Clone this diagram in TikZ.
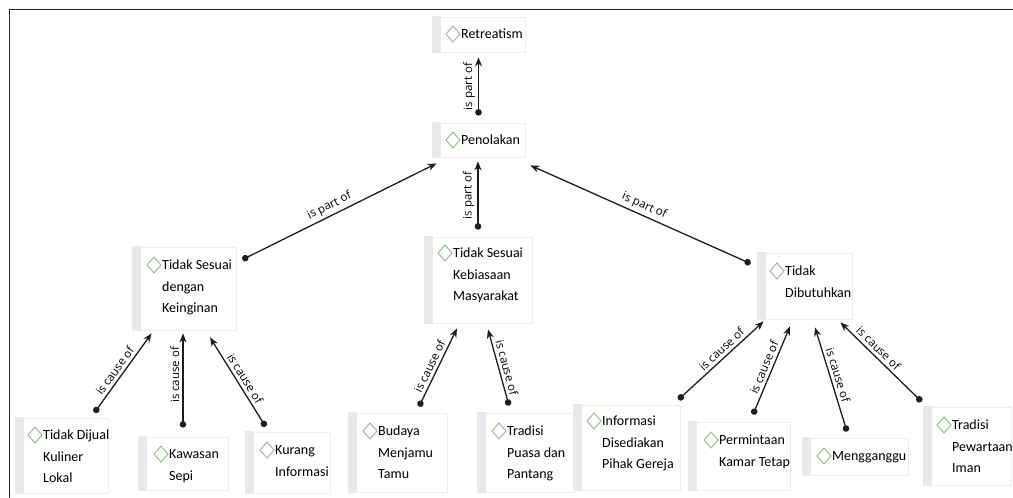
\documentclass[tikz,border=0pt]{standalone}
\usepackage{fontspec}
\setmainfont{Carlito}
\newfontfamily\labfont{Open Sans}
\usetikzlibrary{arrows.meta,calc}
\definecolor{diamg}{HTML}{8DBF80}
\definecolor{stripc}{HTML}{E9E9E9}
\definecolor{bordc}{HTML}{EDEDED}
\definecolor{linec}{HTML}{1E1E1E}
\tikzset{
  cbox/.style={draw=bordc, line width=0.8pt, fill=white, inner sep=0pt},
  ctext/.style={inner sep=0pt, align=left, font=\fontsize{14}{21.5}\selectfont, text=black},
  diam/.style={draw=diamg, line width=0.9pt, line join=miter},
  strip/.style={fill=stripc},
  rel/.style={draw=linec, line width=1.3pt, {Circle[length=6.5pt]}-{Stealth[length=9pt,width=7pt]}},
  lab/.style={font=\labfont\fontsize{11.5}{13}\selectfont, sloped, above=2pt, inner sep=1pt, text=black},
  frame/.style={draw=black!85, line width=1.6pt}
}
\newcommand{\mkbox}[8]{%
  \node[cbox, minimum width={#4-#2}, minimum height={#5-#3}] (#1) at ({(#2+#4)/2},{(#3+#5)/2}) {};
  \fill[strip] ([shift={(0.4,-0.4)}]#1.north west) rectangle ([shift={(9,0.4)}]#1.south west);
  \draw[diam] (#6-8,#7) ++(-7,0) -- ++(7,-8) -- ++(7,8) -- ++(-7,8) -- cycle;
  \node[ctext, anchor=north west] (#1-t) at (#6,#7-10.55) {\strut #8};
}
\begin{document}
\begin{tikzpicture}[x=1pt, y=-1pt]
\useasboundingbox (0,0) rectangle (1013,498);
\draw[frame] (9.5,498) -- (9.5,9.5) -- (1013,9.5);

\mkbox{ret}{432}{17}{525}{52}{461}{34}{Retreatism}
\mkbox{pen}{432}{123}{525}{157}{461}{140}{Penolakan}
\mkbox{tsk}{132}{247}{236}{330}{162}{265}{Tidak Sesuai\\dengan\\Keinginan}
\mkbox{tsm}{424}{237}{532}{323}{453}{253}{Tidak Sesuai\\Kebiasaan\\Masyarakat}
\mkbox{tdb}{757}{253}{852}{319}{785}{271}{Tidak\\Dibutuhkan}
\mkbox{tdj}{15}{418}{108}{493}{43}{435}{Tidak Dijual\\Kuliner\\Lokal}
\mkbox{kws}{138}{437}{228}{490}{169}{454}{Kawasan\\Sepi}
\mkbox{kri}{245}{432}{330}{493}{275}{450}{Kurang\\Informasi}
\mkbox{bmt}{348}{413}{447}{492}{378}{431}{Budaya\\Menjamu\\Tamu}
\mkbox{tpp}{477}{413}{575}{492}{507}{431}{Tradisi\\Puasa dan\\Pantang}
\mkbox{idg}{573}{405}{680}{490}{602}{421}{Informasi\\Disediakan\\Pihak Gereja}
\mkbox{pkt}{688}{422}{790}{490}{719}{440}{Permintaan\\Kamar Tetap}
\mkbox{mgg}{802}{438}{908}{475}{832}{456}{Mengganggu}
\mkbox{tpi}{923}{407}{1011}{485}{952}{425}{Tradisi\\Pewartaan\\Iman}

% is part of
\draw[rel] ($(pen.north)+(0,-7)$) -- node[lab, pos=0.5] {is part of} ($(ret.south)+(0,5)$);
\draw[rel] ($(tsk.north east)+(6,13)$) -- node[lab, pos=0.47] {is part of} ($(pen.south west)+(5,6)$);
\draw[rel] ($(tsm.north)+(0,-7)$) -- node[lab, pos=0.5] {is part of} ($(pen.south)+(-0.5,4)$);
\draw[rel] ($(tdb.north west)+(-6,11)$) -- node[lab, pos=0.5] {is part of} ($(pen.south east)+(5,8)$);

% is cause of
\draw[rel] ($(tdj.north east)+(-14,-5)$) -- node[lab, pos=0.47] {is cause of} ($(tsk.south west)+(20,3)$);
\draw[rel] ($(kws.north)+(0,-9)$) -- node[lab, pos=0.56] {is cause of} ($(tsk.south)+(-1,3)$);
\draw[rel] ($(kri.north west)+(21,-5)$) -- node[lab, pos=0.49] {is cause of} ($(tsk.south)+(26,7)$);
\draw[rel] ($(bmt.north)+(21.5,-6)$) -- node[lab, pos=0.47] {is cause of} ($(tsm.south)+(-21,5)$);
\draw[rel] ($(tpp.north)+(-17,-7)$) -- node[lab, pos=0.47] {is cause of} ($(tsm.south)+(10,6)$);
\draw[rel] ($(idg.north east)+(-2,-5)$) -- node[lab, pos=0.57] {is cause of} ($(tdb.south west)+(7,2)$);
\draw[rel] ($(pkt.north)+(14,-7)$) -- node[lab, pos=0.5] {is cause of} ($(tdb.south)+(-14.5,7)$);
\draw[rel] ($(mgg.north)+(-8,-6)$) -- node[lab, pos=0.52] {is cause of} ($(tdb.south)+(10.5,8)$);
\draw[rel] ($(tpi.north west)+(-1,-5)$) -- node[lab, pos=0.6] {is cause of} ($(tdb.south east)+(-12,3)$);
\end{tikzpicture}
\end{document}
